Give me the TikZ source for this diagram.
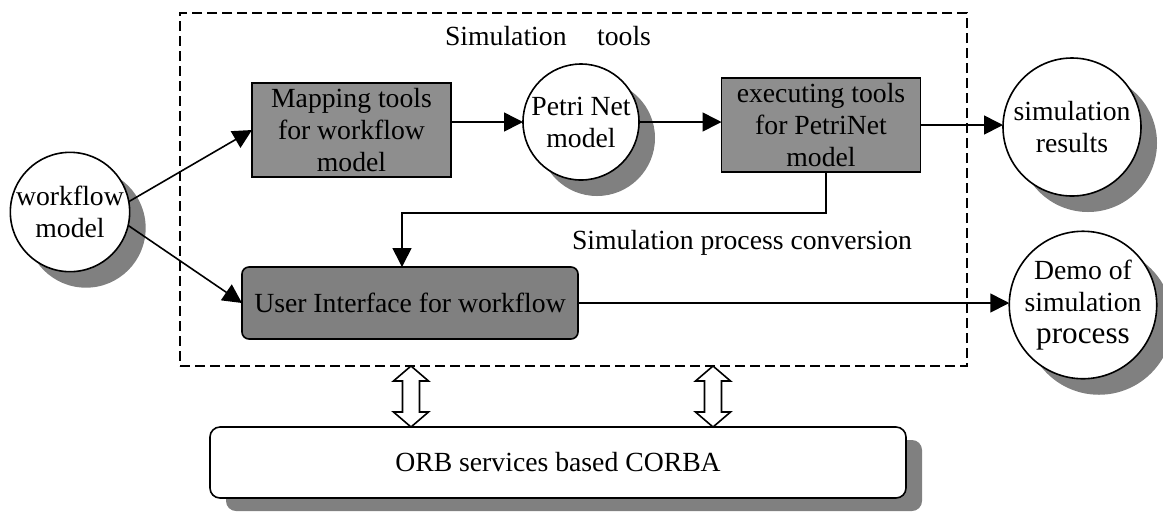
\documentclass[tikz,border=0pt]{standalone}
\usepackage{fontspec}
\setmainfont{Liberation Serif}
\usetikzlibrary{arrows.meta,shadows,calc}

\definecolor{toolgray}{RGB}{142,142,142}
\definecolor{uigray}{RGB}{128,128,128}
\definecolor{shadegray}{RGB}{128,128,128}

\begin{document}
\begin{tikzpicture}[x=0.5pt,y=-0.5pt,
  font=\fontsize{13.85}{16}\selectfont,
  every node/.style={inner sep=0pt, outer sep=0pt},
  place/.style={circle, draw, line width=0.8pt, fill=white, align=center,
    minimum size=#1,
    drop shadow={shadow xshift=8pt, shadow yshift=-8pt, fill=shadegray, opacity=1}},
  tool/.style={rectangle, draw, line width=0.8pt, fill=toolgray, align=center,
    minimum width=99.5pt, minimum height=47pt},
  arr/.style={-{Triangle[length=9.5pt,width=9.5pt]}, line width=0.8pt},
  link/.style={line width=0.8pt, fill=white, line join=miter}
]
\useasboundingbox (0,0) rectangle (1163,511);

% simulation tools frame
\node[draw, line width=0.9pt, dash pattern=on 5pt off 2.5pt,
  minimum width=393.5pt, minimum height=176.5pt] (frame) at (573.5,189.5) {};
\node (title) at (548,36) {Simulation\hspace{1.1em}tools};

% places and tools
\node[place=57pt] (wf) at (70,212) {workflow\\model};
\node[tool] (map) at (351.5,130) {Mapping tools\\for workflow\\model};
\node[place=58pt] (pn) at (581,122) {Petri Net\\model};
\node[tool] (exec) at (821,125) {executing tools\\for PetriNet\\model};
\node[place=69pt] (res) at (1072,127) {simulation\\results};
\node[rectangle, rounded corners=3.5pt, draw, line width=0.8pt, fill=uigray,
  minimum width=168pt, minimum height=36pt] (ui) at (410,303) {User Interface for workflow};
\node[place=70pt] (demo) at (1083,305)
  {Demo of\\simulation\\{\fontsize{15.6}{17}\selectfont process}};
\node[anchor=west] (conv) at (572,243) {Simulation process conversion};

% ORB layer
\node[rectangle, rounded corners=5pt, draw, line width=0.8pt, fill=white,
  minimum width=348pt, minimum height=35.5pt,
  drop shadow={shadow xshift=8pt, shadow yshift=-6.5pt, fill=shadegray, opacity=1}]
  (orb) at (558,462.5) {ORB services based CORBA};

% connectors
\draw[arr] (wf.10) -- (map.west);
\draw[arr] (wf.-13) -- (ui.west);
\draw[arr] (map.east |- pn.west) -- (pn.west);
\draw[arr] (pn.east) -- (pn.east -| exec.west);
\draw[arr] (exec.east) -- (exec.east -| res.west);
\coordinate (turn) at (402,213);
\draw[arr] ([xshift=2.5pt]exec.south) |- (turn) -- (turn |- ui.north);
\draw[arr] (ui.east) -- (ui.east -| demo.west);

% two-way links between the frame and the ORB layer
\coordinate (l1) at (411,0);
\coordinate (l2) at (713,0);
\foreach \c in {l1,l2} {
  \draw[link] (frame.south -| \c) -- ++(17.5,15) -- ++(-9,0) -- ++(0,31) -- ++(9,0)
    -- (orb.north -| \c) -- ++(-17.5,-15) -- ++(9,0) -- ++(0,-31) -- ++(-9,0) -- cycle;
}
\end{tikzpicture}
\end{document}
